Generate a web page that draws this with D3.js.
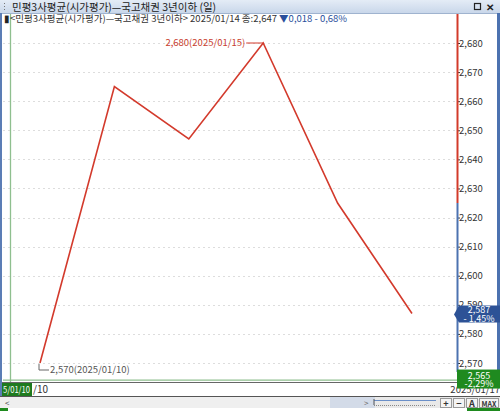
<!DOCTYPE html>
<html><head><meta charset="utf-8">
<script src="https://cdn.jsdelivr.net/npm/d3@7"></script>
<style>
html,body{margin:0;padding:0;background:#fff;overflow:hidden}
svg{display:block}
text{font-family:"Noto Sans CJK KR","Noto Sans",sans-serif}
</style></head><body>
<script>
const dates = ["2025/01/10","2025/01/13","2025/01/14","2025/01/15","2025/01/16","2025/01/17"];
const values = [2.570, 2.665, 2.647, 2.680, 2.625, 2.587];
const yTicks = [2.570,2.580,2.590,2.600,2.610,2.620,2.630,2.640,2.650,2.660,2.670,2.680];
const title = "민평3사평균(시가평가)—국고채권 3년이하 (일)";
const infoName = "<민평3사평균(시가평가)—국고채권 3년이하>";
const infoDate = "2025/01/14";
const infoClose = "종:2,647";
const infoChange = "▼0,018";
const infoPct = "- 0,68%";
const lastLabel = ["2,587","- 1,45%"];
const refValue = 2.565;
const refLabel = ["2,565","-2,29%"];
const splitValue = 2.625;

const W=500,H=411;
const svg=d3.select("body").append("svg").attr("width",W).attr("height",H);
const loc=d3.formatLocale({decimal:",",thousands:".",grouping:[3],currency:["",""]});
const fmt=loc.format(".3f");
const NARROW="'Liberation Sans Narrow','DejaVu Sans Condensed',sans-serif";

const x=d3.scalePoint().domain(dates).range([40,412]);
const y=d3.scaleLinear().domain([2.570,2.680]).range([363,43]);
const axisX=457;

svg.append("rect").attr("width",W).attr("height",H).attr("fill","#fff");

// title bar
const grad=svg.append("defs").append("linearGradient").attr("id","tb").attr("x1",0).attr("y1",0).attr("x2",0).attr("y2",1);
grad.append("stop").attr("offset",0).attr("stop-color","#e4ecf6");
grad.append("stop").attr("offset",1).attr("stop-color","#c9d7ea");
svg.append("rect").attr("x",0).attr("y",0).attr("width",W).attr("height",13).attr("fill","url(#tb)");
svg.append("line").attr("x1",0).attr("x2",W).attr("y1",13.5).attr("y2",13.5).attr("stroke","#9fb3cf");
svg.append("text").attr("x",12).attr("y",10.5).attr("font-size",10.5).attr("fill","#222").text(title);
for(let i=0;i<3;i++) svg.append("rect").attr("x",4).attr("y",3+i*3).attr("width",1).attr("height",1).attr("fill","#777");
svg.append("rect").attr("x",474.5).attr("y",3.5).attr("width",6).attr("height",6).attr("fill","none").attr("stroke","#222").attr("stroke-width",1.2);
svg.append("text").attr("x",486).attr("y",10.5).attr("font-size",10).attr("font-weight","bold").attr("fill","#222").text("✕");

// borders
svg.append("rect").attr("x",0).attr("y",13).attr("width",2).attr("height",H-13).attr("fill","#5b7db5");
svg.append("rect").attr("x",497).attr("y",13).attr("width",3).attr("height",370).attr("fill","#4c72b0");

// gridlines
svg.append("g").selectAll("line").data(yTicks).join("line")
  .attr("x1",3).attr("x2",axisX-1).attr("y1",d=>Math.round(y(d))+0.5).attr("y2",d=>Math.round(y(d))+0.5)
  .attr("stroke","#dddddd").attr("stroke-dasharray","2,3");

// green reference lines
svg.append("line").attr("x1",10.5).attr("x2",10.5).attr("y1",14).attr("y2",382).attr("stroke","#8fbf8f").attr("stroke-width",1.3);
svg.append("line").attr("x1",3).attr("x2",axisX).attr("y1",y(refValue)+2.5).attr("y2",y(refValue)+2.5).attr("stroke","#8fbf8f").attr("stroke-width",1.3);

// info row
const info=svg.append("text").attr("x",4).attr("y",22).attr("font-size",9.5).attr("fill","#333");
info.append("tspan").attr("fill","#222").text("▮");
info.append("tspan").text(infoName+" "+infoDate+" "+infoClose+" ");
info.append("tspan").attr("fill","#2a4f9c").text(infoChange+"  "+infoPct);

// right axis
const ax=d3.axisRight(y).tickValues(yTicks).tickSize(3).tickFormat(d=>fmt(d));
const gA=svg.append("g").attr("transform",`translate(${axisX},0)`).call(ax);
gA.select(".domain").remove();
gA.selectAll(".tick line").attr("stroke","#333");
gA.selectAll(".tick text").attr("x",2).attr("font-size",9.5).attr("fill","#333").attr("font-family",NARROW);
svg.append("line").attr("x1",axisX+0.5).attr("x2",axisX+0.5).attr("y1",14).attr("y2",y(splitValue)).attr("stroke","#d23a2a").attr("stroke-width",2);
svg.append("line").attr("x1",axisX+0.5).attr("x2",axisX+0.5).attr("y1",y(splitValue)).attr("y2",372).attr("stroke","#4c72b0").attr("stroke-width",2);

// price line
const line=d3.line().x((d,i)=>x(dates[i])).y(d=>y(d));
svg.append("path").datum(values).attr("d",line).attr("fill","none").attr("stroke","#d33a2c").attr("stroke-width",1.6);

// max annotation
const iMax=values.indexOf(d3.max(values));
const mx=x(dates[iMax]), my=y(values[iMax]);
svg.append("line").attr("x1",mx-17).attr("x2",mx).attr("y1",my).attr("y2",my).attr("stroke","#d33a2c");
svg.append("text").attr("x",mx-18).attr("y",my+3).attr("text-anchor","end").attr("font-size",9.5).attr("fill","#c8402e")
  .attr("font-family",NARROW).text(fmt(values[iMax])+"("+dates[iMax]+")");

// min annotation
const iMin=values.indexOf(d3.min(values));
const nx=x(dates[iMin]), ny=y(values[iMin]);
svg.append("path").attr("d",`M${nx-1},${ny+1}V${ny+7}H${nx+9}`).attr("fill","none").attr("stroke","#666");
svg.append("text").attr("x",nx+10).attr("y",ny+10).attr("font-size",9.5).attr("fill","#555")
  .attr("font-family",NARROW).text(fmt(values[iMin])+"("+dates[iMin]+")");

// last value box
const lv=values[values.length-1], ly=y(lv);
svg.append("path").attr("d",`M${axisX-3},${ly+1}L${axisX+2},${ly-8}H${W}V${ly+9}H${axisX+2}Z`).attr("fill","#2d5296");
svg.append("text").attr("x",479).attr("y",ly-0.5).attr("text-anchor","middle").attr("font-size",9).attr("fill","#fff")
  .attr("font-family",NARROW).text(lastLabel[0]);
svg.append("text").attr("x",479).attr("y",ly+8).attr("text-anchor","middle").attr("font-size",9).attr("fill","#fff")
  .attr("font-family",NARROW).text(lastLabel[1]);

// x axis row
svg.append("line").attr("x1",2).attr("x2",457).attr("y1",382.5).attr("y2",382.5).attr("stroke","#666");
svg.append("rect").attr("x",2).attr("y",383).attr("width",30).attr("height",13).attr("fill","#1e7a1e");
svg.append("text").attr("x",3).attr("y",393).attr("font-size",9).attr("fill","#fff")
  .attr("textLength",27).attr("lengthAdjust","spacingAndGlyphs")
  .attr("font-family",NARROW).text(dates[0].slice(3));
svg.append("text").attr("x",33).attr("y",393).attr("font-size",10).attr("fill","#333")
  .attr("font-family",NARROW).text("/"+dates[0].slice(8));
svg.append("text").attr("x",W).attr("y",393).attr("text-anchor","end").attr("font-size",9.5).attr("fill","#333")
  .attr("font-family",NARROW).text(dates[dates.length-1]);

// ref value box (drawn over the date label like the reference)
const ry=y(refValue);
svg.append("rect").attr("x",axisX).attr("y",ry-8).attr("width",W-axisX).attr("height",19).attr("fill","#1f8a1f");
svg.append("text").attr("x",479).attr("y",ry+1).attr("text-anchor","middle").attr("font-size",9).attr("fill","#fff")
  .attr("font-family",NARROW).text(refLabel[0]);
svg.append("text").attr("x",479).attr("y",ry+9.5).attr("text-anchor","middle").attr("font-size",9).attr("fill","#fff")
  .attr("font-family",NARROW).text(refLabel[1]);

// scrollbar row
svg.append("line").attr("x1",0).attr("x2",W).attr("y1",396.5).attr("y2",396.5).attr("stroke","#555");
svg.append("rect").attr("x",0).attr("y",397).attr("width",W).attr("height",11).attr("fill","#e9e9e9");
svg.append("rect").attr("x",0).attr("y",397).attr("width",370).attr("height",11).attr("fill","#efefef");
svg.append("text").attr("x",5).attr("y",406).attr("font-size",8).attr("fill","#444").text("<");
svg.append("rect").attr("x",330).attr("y",397).attr("width",45).attr("height",11).attr("fill","#d3dbe8");
svg.append("text").attr("x",364).attr("y",406).attr("font-size",8).attr("fill","#666").text(">");
svg.append("line").attr("x1",374).attr("x2",436).attr("y1",400.5).attr("y2",400.5).attr("stroke","#6a8fc8");
svg.append("line").attr("x1",374).attr("x2",374).attr("y1",399).attr("y2",405).attr("stroke","#555");
svg.append("line").attr("x1",374).attr("x2",436).attr("y1",405.5).attr("y2",405.5).attr("stroke","#888").attr("stroke-dasharray","1,1");
const btns=["+","−","A","MAX"], bx=[440,453,466,479], bw=[12,12,12,20];
btns.forEach((b,i)=>{
  svg.append("rect").attr("x",bx[i]+0.5).attr("y",398.5).attr("width",bw[i]-1).attr("height",9).attr("fill","#f4f4f4").attr("stroke","#999");
  svg.append("text").attr("x",bx[i]+bw[i]/2).attr("y",406.5).attr("text-anchor","middle").attr("font-size",b==="MAX"?7:9).attr("font-weight","bold").attr("fill","#333")
    .attr("font-family","'DejaVu Sans',sans-serif").text(b);
});
svg.append("rect").attr("x",0).attr("y",408).attr("width",W).attr("height",3).attr("fill","#fff");
svg.append("rect").attr("x",467).attr("y",408).attr("width",33).attr("height",3).attr("fill","#1e8a1e");
svg.append("rect").attr("x",0).attr("y",408).attr("width",8).attr("height",3).attr("fill","#1e8a1e");
</script>
</body></html>
